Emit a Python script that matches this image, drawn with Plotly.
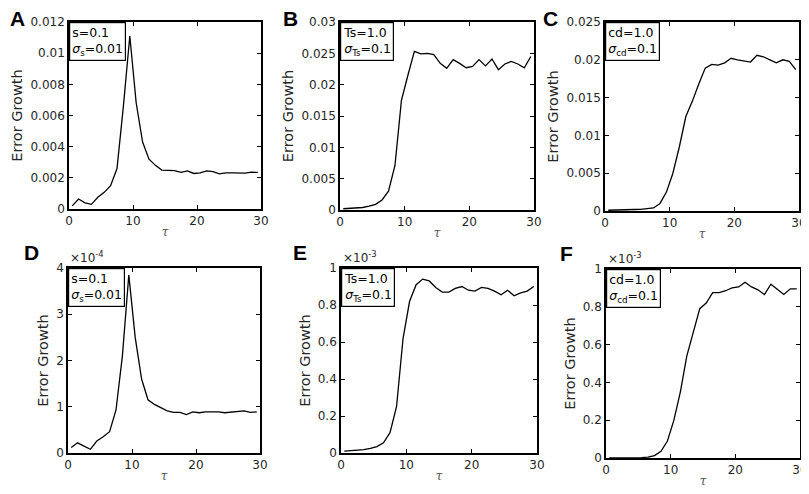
import plotly.graph_objects as go

# the page body has an 8px margin, so the figure is drawn 8px smaller and shifted
OFF = 8
W, H = 809 - OFF, 494 - OFF

tau = [i + 0.5 for i in range(30)]

# panel A: s=0.1, sigma_s=0.01
err_a = [0.0002, 0.00064, 0.0004, 0.0003, 0.00075, 0.00107, 0.0015, 0.0026, 0.0066, 0.0111,
         0.0068, 0.0043, 0.0032, 0.0028, 0.0025, 0.00248, 0.00246, 0.00235, 0.00245, 0.00228,
         0.00232, 0.00245, 0.0024, 0.00225, 0.00232, 0.00232, 0.0023, 0.0023, 0.00236, 0.00235]
# panel B: Ts=1.0, sigma_Ts=0.1
err_b = [0.0002, 0.00025, 0.0003, 0.0004, 0.0006, 0.0009, 0.0016, 0.003, 0.0071, 0.0175,
         0.0215, 0.0253, 0.0249, 0.025, 0.0248, 0.0234, 0.0226, 0.024, 0.0234, 0.0227,
         0.0229, 0.024, 0.023, 0.0241, 0.0224, 0.0233, 0.0237, 0.0233, 0.0227, 0.0245]
# panel C: cd=1.0, sigma_cd=0.1
err_c = [0.0001, 0.0001, 0.00012, 0.00015, 0.0002, 0.00022, 0.0003, 0.0004, 0.001, 0.0025,
         0.005, 0.0085, 0.0125, 0.0145, 0.0168, 0.0189, 0.0194, 0.0193, 0.0196, 0.0202,
         0.02, 0.0199, 0.0197, 0.0206, 0.0204, 0.02, 0.0196, 0.02, 0.0198, 0.0187]
# panel D (x1e-4)
err_d = [0.12, 0.22, 0.15, 0.08, 0.26, 0.35, 0.46, 0.93, 2.1, 3.85,
         2.5, 1.6, 1.15, 1.05, 0.98, 0.91, 0.88, 0.88, 0.83, 0.89,
         0.87, 0.89, 0.89, 0.89, 0.87, 0.88, 0.9, 0.91, 0.88, 0.89]
# panel E (x1e-3)
err_e = [0.01, 0.012, 0.015, 0.018, 0.025, 0.035, 0.055, 0.11, 0.25, 0.62,
         0.82, 0.91, 0.94, 0.93, 0.895, 0.87, 0.87, 0.89, 0.9, 0.88,
         0.875, 0.895, 0.89, 0.875, 0.855, 0.88, 0.85, 0.865, 0.875, 0.9]
# panel F (x1e-3)
err_f = [0.0, 0.0, 0.0, 0.0, 0.001, 0.002, 0.005, 0.013, 0.035, 0.09,
         0.2, 0.35, 0.54, 0.67, 0.79, 0.82, 0.875, 0.875, 0.885, 0.9,
         0.905, 0.93, 0.905, 0.89, 0.865, 0.92, 0.89, 0.865, 0.895, 0.895]

letters = ["A", "B", "C", "D", "E", "F"]
series = [err_a, err_b, err_c, err_d, err_e, err_f]
y_max = [0.012, 0.03, 0.025, 4, 1, 1]
y_step = [0.002, 0.005, 0.005, 1, 0.2, 0.2]
exponents = [None, None, None, "-4", "-3", "-3"]
box_text = [
    "s=0.1<br><i>σ</i><sub>s</sub>=0.01",
    "Ts=1.0<br><i>σ</i><sub>Ts</sub>=0.1",
    "cd=1.0<br><i>σ</i><sub>cd</sub>=0.1",
    "s=0.1<br><i>σ</i><sub>s</sub>=0.01",
    "Ts=1.0<br><i>σ</i><sub>Ts</sub>=0.1",
    "cd=1.0<br><i>σ</i><sub>cd</sub>=0.1",
]

# plot boxes in window pixels: left, right, top, bottom
boxes = [
    (69, 261, 22, 209), (340, 534, 22, 210), (605, 799, 22, 211),
    (68, 260, 268, 453), (341, 537, 268, 453), (606, 800, 269, 458),
]
# panel letter top-left corners in window pixels
letter_pos = [(8, 5), (281, 5), (541, 5), (22, 239), (291, 239), (558, 240)]

FONT = "DejaVu Sans"
INK = "#262626"


def fx(px):
    return (px - OFF) / W


def fy(py):
    return 1 - (py - OFF) / H


fig = go.Figure()
layout = {}
annotations = []

for i, (lt, ys, box) in enumerate(zip(letters, series, boxes)):
    n = "" if i == 0 else str(i + 1)
    l, r, t, b = box
    xa, ya = "xaxis" + n, "yaxis" + n
    fig.add_trace(go.Scatter(x=tau, y=ys, mode="lines", xaxis="x" + n, yaxis="y" + n,
                             line=dict(color="black", width=1.3), showlegend=False))
    common = dict(showline=True, linecolor="black", linewidth=1.6, mirror="ticks",
                  ticks="inside", ticklen=4, tickcolor="black", showgrid=False, zeroline=False,
                  automargin=False, tickfont=dict(family=FONT, size=12, color=INK))
    layout[xa] = dict(domain=[fx(l), fx(r)], anchor="y" + n, range=[0, 30], dtick=10,
                      title=dict(text="<i>τ</i>", font=dict(family="DejaVu Serif", size=12, color="#555"),
                                 standoff=0), **common)
    layout[ya] = dict(domain=[fy(b), fy(t)], anchor="x" + n, range=[0, y_max[i]],
                      dtick=y_step[i],
                      title=dict(text="Error Growth", font=dict(family=FONT, size=14.5, color=INK),
                                 standoff=4), **common)
    annotations.append(dict(text=box_text[i], xref="x" + n + " domain", yref="y" + n + " domain",
                            x=0, y=1, xanchor="left", yanchor="top", showarrow=False, align="left",
                            bordercolor="black", borderwidth=1.2, borderpad=2, bgcolor="white",
                            font=dict(family=FONT, size=12.5, color="black")))
    px, py = letter_pos[i]
    annotations.append(dict(text="<b>" + lt + "</b>", xref="paper", yref="paper",
                            x=fx(px), y=fy(py), xanchor="left", yanchor="top", showarrow=False,
                            font=dict(family="Liberation Sans", size=21, color="black")))
    if exponents[i]:
        annotations.append(dict(text="×10<sup>" + exponents[i] + "</sup>", xref="paper", yref="paper",
                                x=fx(l), y=fy(t - 1), xanchor="left", yanchor="bottom",
                                showarrow=False, font=dict(family=FONT, size=12, color=INK)))

fig.update_layout(width=W, height=H, margin=dict(l=0, r=0, t=0, b=0), template="none",
                  plot_bgcolor="white", paper_bgcolor="white",
                  annotations=annotations, **layout)

fig.write_html("out.html")
